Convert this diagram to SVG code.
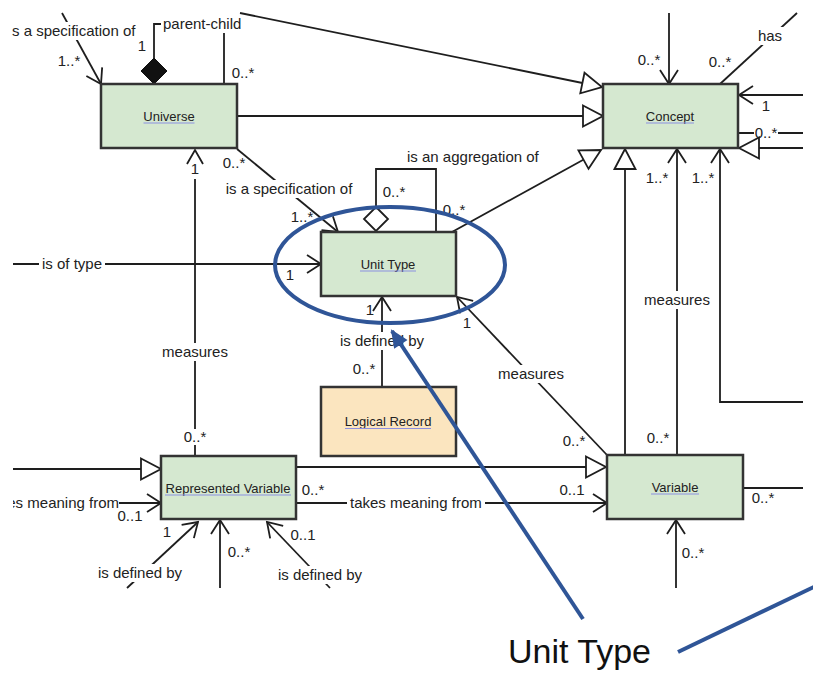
<svg xmlns="http://www.w3.org/2000/svg" width="813" height="678" viewBox="0 0 813 678">
<defs>
<style>
.box{stroke:#333;stroke-width:2.5}
.g{fill:#d5e8d0}
.o{fill:#fbe5bf}
.nt{font-family:"Liberation Sans",Arial,sans-serif;font-size:13px;fill:#222;text-anchor:middle}
.ul{stroke:#8c8fe0;stroke-width:1.2}
.c{fill:none;stroke:#1e1e1e;stroke-width:1.8}
.t{font-family:"Liberation Sans",Arial,sans-serif;font-size:15px;fill:#222}
.m{text-anchor:middle}
.bg{fill:#fff}
.blue{fill:none;stroke:#2f5597;stroke-width:4}
.oa{marker-end:url(#open)}
.ta{marker-end:url(#tri)}
</style>
<marker id="open" markerUnits="userSpaceOnUse" markerWidth="30" markerHeight="30" refX="0" refY="0" orient="auto" overflow="visible">
<path d="M-14,-9 L0,0 L-14,9" fill="none" stroke="#1e1e1e" stroke-width="1.8"/>
</marker>
<marker id="tri" markerUnits="userSpaceOnUse" markerWidth="30" markerHeight="30" refX="0" refY="0" orient="auto" overflow="visible">
<path d="M-20,-10.5 L0,0 L-20,10.5 Z" fill="#fff" stroke="#1e1e1e" stroke-width="1.8"/>
</marker>
<marker id="bluehead" markerUnits="userSpaceOnUse" markerWidth="30" markerHeight="30" refX="0" refY="0" orient="auto" overflow="visible">
<path d="M-16,-8 L2,0 L-16,8 Z" fill="#2f5597"/>
</marker>
<clipPath id="leftclip"><rect x="13" y="0" width="800" height="678"/></clipPath>
</defs>
<rect width="813" height="678" fill="#fff"/>

<g id="connectors">
  <!-- top-left specification -->
  <line class="c oa" x1="62" y1="13" x2="101" y2="84"/>
  <rect class="bg" x="10" y="22" width="124" height="18"/>
  <text class="t" x="12" y="36">s a specification of</text>
  <text class="t m" x="69" y="66">1..*</text>
  <!-- parent-child -->
  <path class="c" d="M154,58 V24 H224 V84"/>
  <polygon points="154,58 167,71 154,84 141,71" fill="#111" stroke="#111" stroke-width="1"/>
  <rect class="bg" x="161" y="15" width="83" height="18"/>
  <text class="t" x="163" y="29">parent-child</text>
  <text class="t m" x="142" y="51">1</text>
  <text class="t m" x="243" y="78">0..*</text>
  <!-- top line to Concept -->
  <line class="c ta" x1="240" y1="13" x2="602" y2="87"/>
  <!-- Universe to Concept -->
  <line class="c ta" x1="237" y1="116" x2="603" y2="116"/>
  <!-- Concept top -->
  <line class="c oa" x1="669" y1="13" x2="669" y2="84"/>
  <text class="t m" x="649" y="65">0..*</text>
  <line class="c" x1="720" y1="84" x2="797" y2="13"/>
  <rect class="bg" x="756" y="27" width="28" height="18"/>
  <text class="t m" x="770" y="41">has</text>
  <text class="t m" x="720" y="67">0..*</text>
  <!-- Concept right -->
  <line class="c oa" x1="803" y1="95" x2="739" y2="95"/>
  <text class="t m" x="766" y="111">1</text>
  <line class="c" x1="738" y1="133" x2="803" y2="133"/>
  <rect class="bg" x="754" y="125" width="24" height="16"/>
  <text class="t m" x="766" y="138">0..*</text>
  <line class="c ta" x1="803" y1="148" x2="739" y2="148"/>
  <!-- Concept bottom -->
  <line class="c ta" x1="625" y1="455" x2="625" y2="149"/>
  <line class="c oa" x1="677" y1="455" x2="677" y2="149"/>
  <rect class="bg" x="643" y="291" width="68" height="18"/>
  <text class="t m" x="677" y="305">measures</text>
  <text class="t m" x="657" y="183">1..*</text>
  <text class="t m" x="658" y="443">0..*</text>
  <path class="c oa" d="M803,402 H720 V149"/>
  <text class="t m" x="703" y="183">1..*</text>
  <!-- Unit Type to Concept -->
  <line class="c ta" x1="452" y1="232" x2="601" y2="150"/>
  <text class="t m" x="454" y="215">0..*</text>
  <!-- aggregation loop -->
  <path class="c" d="M376,207 V169 H436 V232"/>
  <polygon points="376,207 388,219 376,231 364,219" fill="#fff" stroke="#1e1e1e" stroke-width="1.8"/>
  <text class="t" x="407" y="162">is an aggregation of</text>
  <text class="t m" x="394" y="197">0..*</text>
  <!-- Universe to Unit Type -->
  <line class="c oa" x1="237" y1="149" x2="338" y2="232"/>
  <rect class="bg" x="223" y="180" width="132" height="18"/>
  <text class="t m" x="289" y="194">is a specification of</text>
  <text class="t m" x="234" y="168">0..*</text>
  <text class="t m" x="302" y="222">1..*</text>
  <!-- is of type -->
  <line class="c oa" x1="13" y1="264" x2="321" y2="264"/>
  <rect class="bg" x="39" y="255" width="66" height="18"/>
  <text class="t" x="42" y="269">is of type</text>
  <text class="t m" x="290" y="280">1</text>
  <!-- Universe to Represented Variable -->
  <line class="c" x1="195" y1="456" x2="195" y2="179"/>
  <path class="c" d="M187,164 L195,150 L203,164"/>
  <text class="t m" x="195" y="174">1</text>
  <rect class="bg" x="161" y="343" width="68" height="18"/>
  <text class="t m" x="195" y="357">measures</text>
  <rect class="bg" x="183" y="429" width="24" height="16"/>
  <text class="t m" x="195" y="442">0..*</text>
  <!-- Represented Variable left -->
  <line class="c ta" x1="13" y1="469" x2="161" y2="469"/>
  <text class="t" x="119" y="508" text-anchor="end" clip-path="url(#leftclip)">es meaning from</text>
  <line class="c oa" x1="119" y1="503" x2="161" y2="503"/>
  <text class="t m" x="130" y="521">0..1</text>
  <!-- RV to Variable -->
  <line class="c ta" x1="296" y1="467" x2="606" y2="467"/>
  <line class="c oa" x1="296" y1="503" x2="607" y2="503"/>
  <rect class="bg" x="347" y="494" width="138" height="18"/>
  <text class="t" x="350" y="508">takes meaning from</text>
  <text class="t m" x="313" y="495">0..*</text>
  <text class="t m" x="572" y="495">0..1</text>
  <!-- Variable right and bottom -->
  <line class="c" x1="743" y1="488" x2="803" y2="488"/>
  <text class="t m" x="763" y="503">0..*</text>
  <line class="c oa" x1="676" y1="588" x2="676" y2="520"/>
  <text class="t m" x="693" y="558">0..*</text>
  <!-- Variable measures Unit Type -->
  <line class="c oa" x1="607" y1="455" x2="457" y2="297"/>
  <rect class="bg" x="497" y="365" width="68" height="18"/>
  <text class="t m" x="531" y="379">measures</text>
  <text class="t m" x="467" y="328">1</text>
  <text class="t m" x="574" y="446">0..*</text>
  <!-- Logical Record to Unit Type -->
  <line class="c oa" x1="382" y1="387" x2="382" y2="297"/>
  <rect class="bg" x="338" y="332" width="88" height="18"/>
  <text class="t m" x="382" y="346">is defined by</text>
  <text class="t m" x="364" y="374">0..*</text>
  <text class="t m" x="370" y="315">1</text>
  <!-- RV bottom -->
  <line class="c oa" x1="127" y1="588" x2="198" y2="522"/>
  <rect class="bg" x="96" y="564" width="88" height="18"/>
  <text class="t m" x="140" y="578">is defined by</text>
  <text class="t m" x="167" y="537">1</text>
  <line class="c oa" x1="220" y1="588" x2="220" y2="520"/>
  <text class="t m" x="239" y="557">0..*</text>
  <line class="c oa" x1="330" y1="588" x2="267" y2="522"/>
  <rect class="bg" x="276" y="566" width="88" height="18"/>
  <text class="t m" x="320" y="580">is defined by</text>
  <text class="t m" x="303" y="540">0..1</text>
</g>

<g id="universe">
  <rect class="box g" x="101" y="84" width="136" height="64"/>
  <text class="nt" x="169" y="120.5">Universe</text>
  <line class="ul" x1="143.5" y1="123" x2="194.5" y2="123"/>
</g>
<g id="concept">
  <rect class="box g" x="603" y="84" width="135" height="64"/>
  <text class="nt" x="670" y="120.5">Concept</text>
  <line class="ul" x1="646" y1="123" x2="694" y2="123"/>
</g>
<g id="unit-type">
  <rect class="box g" x="321" y="232" width="135" height="64"/>
  <text class="nt" x="388" y="268.5">Unit Type</text>
  <line class="ul" x1="360" y1="271" x2="416" y2="271"/>
</g>
<g id="logical-record">
  <rect class="box o" x="321" y="387" width="135" height="69"/>
  <text class="nt" x="388" y="426">Logical Record</text>
  <line class="ul" x1="345" y1="428.5" x2="431" y2="428.5"/>
</g>
<g id="represented-variable">
  <rect class="box g" x="161" y="456" width="135" height="63"/>
  <text class="nt" x="228" y="492.5">Represented Variable</text>
  <line class="ul" x1="165" y1="495" x2="291" y2="495"/>
</g>
<g id="variable">
  <rect class="box g" x="607" y="455" width="136" height="64"/>
  <text class="nt" x="675" y="491.5">Variable</text>
  <line class="ul" x1="651" y1="494" x2="699" y2="494"/>
</g>

<g id="annotation">
  <ellipse class="blue" cx="390" cy="265" rx="115" ry="58"/>
  <line class="blue" x1="583" y1="619" x2="392" y2="331" marker-end="url(#bluehead)"/>
  <line class="blue" x1="678" y1="652" x2="820" y2="584"/>
  <text x="508" y="663" font-family="'Liberation Sans',Arial,sans-serif" font-size="34" fill="#111">Unit Type</text>
</g>
</svg>
